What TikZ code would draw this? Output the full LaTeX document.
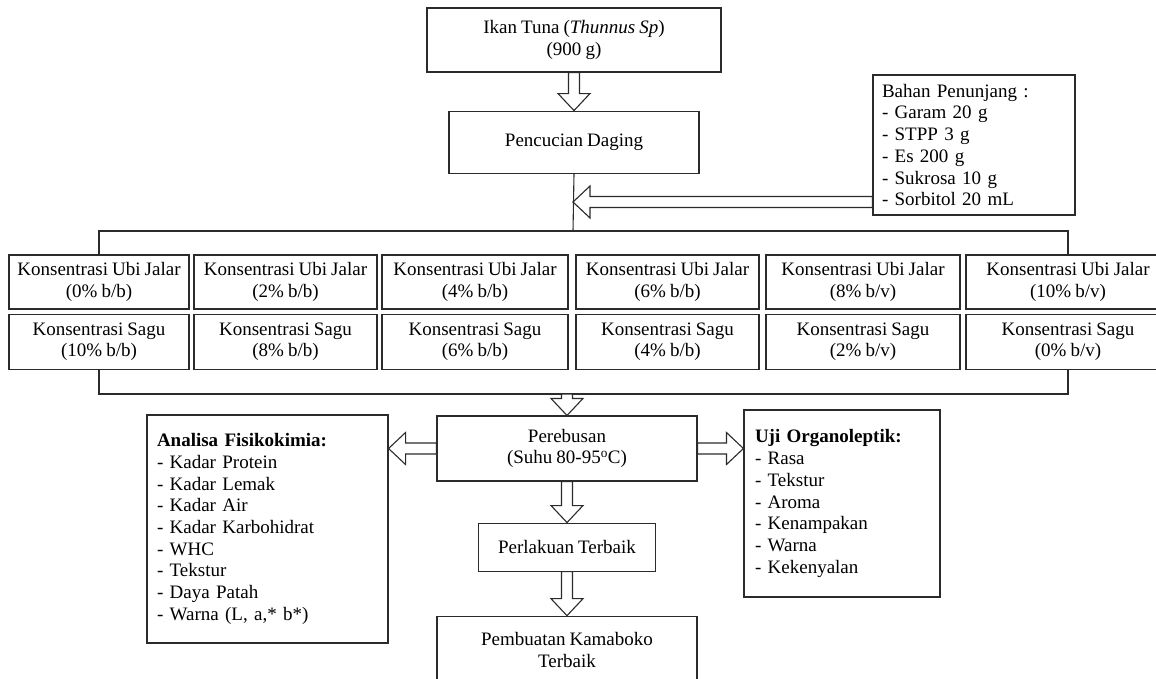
\documentclass[tikz,border=0pt]{standalone}
\usepackage{fontspec}
\setmainfont[WordSpace=0.85]{Liberation Serif}
\usepackage{xcolor}
\usepackage{tikz}
\usetikzlibrary{positioning, calc}
\definecolor{linegray}{HTML}{2B2B2B}

\tikzset{
  box/.style={draw=linegray, line width=1.1pt, inner sep=0pt, align=center,
              font=\fontsize{19}{21.7}\selectfont},
  listbox/.style={box, align=left, inner xsep=10pt},
  link/.style={draw=linegray, line width=1.1pt},
  hollow/.style={draw=linegray, line width=1.1pt, fill=white, to path={
      ($(\tikztostart)!5.5pt!90:(\tikztotarget)$)
      -- ($(\tikztotarget)!17pt!(\tikztostart)!5.5pt!-90:(\tikztostart)$)
      -- ($(\tikztotarget)!17pt!(\tikztostart)!16pt!-90:(\tikztostart)$)
      -- (\tikztotarget)
      -- ($(\tikztotarget)!17pt!(\tikztostart)!16pt!90:(\tikztostart)$)
      -- ($(\tikztotarget)!17pt!(\tikztostart)!5.5pt!90:(\tikztostart)$)
      -- ($(\tikztostart)!5.5pt!-90:(\tikztotarget)$) -- cycle}}
}

\begin{document}
\begin{tikzpicture}[x=1pt, y=-1pt]
    \useasboundingbox (0,0) rectangle (1156,678);

    \node[box, minimum width=294pt, minimum height=64pt] (ikan) at (574,40)
      {Ikan Tuna (\textit{Thunnus Sp})\\(900 g)};
    \node[box, minimum width=250pt, minimum height=62pt, below=38pt of ikan] (pencucian)
      {Pencucian Daging};
    \node[listbox, text width=184pt, inner xsep=9pt, minimum height=140pt] (bahan) at (974,145)
      {Bahan Penunjang :\\- Garam 20 g\\- STPP 3 g\\- Es 200 g\\- Sukrosa 10 g\\- Sorbitol 20 mL};

    \foreach \i/\cx/\w/\u/\s/\uu in {1/99/180/0/10/b, 2/285.5/183/2/8/b, 3/475/186/4/6/b,
                                     4/667.5/183/6/4/b, 5/863/194/8/2/v, 6/1068/204/10/0/v}{
      \node[box, minimum width=\w pt, minimum height=54pt] (uj\i) at (\cx,282)
        {Konsentrasi Ubi Jalar\\(\u\% b/\uu)};
      \node[box, minimum width=\w pt, minimum height=55pt, below=4pt of uj\i] (sg\i)
        {Konsentrasi Sagu\\(\s\% b/\uu)};
    }

    \node[box, minimum width=260pt, minimum height=65pt] (perebusan) at (567,448.5)
      {Perebusan\\(Suhu 80-95\textsuperscript{o}C)};
    \node[box, minimum width=177pt, minimum height=48pt, below=41pt of perebusan] (perlakuan)
      {Perlakuan Terbaik};
    \node[box, minimum width=260pt, minimum height=68pt, below=44pt of perlakuan] (pembuatan)
      {Pembuatan Kamaboko\\Terbaik};
    \node[listbox, text width=221pt, minimum height=228pt] (analisa) at (267.5,529)
      {\textbf{Analisa Fisikokimia:}\\- Kadar Protein\\- Kadar Lemak\\- Kadar Air\\- Kadar Karbohidrat\\- WHC\\- Tekstur\\- Daya Patah\\- Warna (L, a,* b*)};
    \node[listbox, text width=174pt, inner xsep=11pt, minimum height=187pt] (uji) at (842,503.5)
      {\textbf{Uji Organoleptik:}\\- Rasa\\- Tekstur\\- Aroma\\- Kenampakan\\- Warna\\- Kekenyalan};

    \coordinate (split) at (573,231);
    \coordinate (join) at (573,202);
    \coordinate (merge) at (567,394);

    \draw[link] (pencucian.south) -- (split);
    \draw[link] (uj1.north) |- (split) -| (uj6.north);
    \draw[link] (sg1.south) |- (merge) -| (sg6.south);

    \draw[hollow] (ikan.south) to (pencucian.north);
    \draw[hollow] (bahan.west |- join) to (join);
    \draw[hollow] (merge) to (perebusan.north);
    \draw[hollow] (perebusan.south) to (perlakuan.north);
    \draw[hollow] (perlakuan.south) to (pembuatan.north);
    \draw[hollow] (perebusan.east) to (uji.west |- perebusan.east);
    \draw[hollow] (perebusan.west) to (analisa.east |- perebusan.west);
\end{tikzpicture}
\end{document}
